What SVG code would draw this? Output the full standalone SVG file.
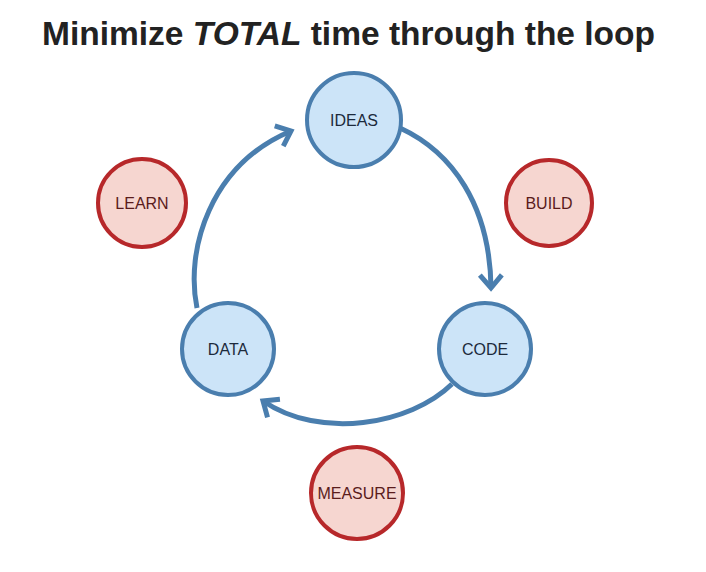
<svg xmlns="http://www.w3.org/2000/svg" width="706" height="572" viewBox="0 0 706 572">
<style>
.title{font-family:"Liberation Sans",Arial,sans-serif;font-weight:bold;font-size:33px;fill:#222}
.blue circle{fill:#cce4f8;stroke:#4a7eae;stroke-width:4}
.red circle{fill:#f6d6d0;stroke:#b7282a;stroke-width:4}
.lbl{font-family:"Liberation Sans",Arial,sans-serif;font-size:16px;text-anchor:middle}
.blue .lbl{fill:#1c2a3c}
.red .lbl{fill:#5a1c1c}
.conn path{fill:none;stroke:#4a7eae;stroke-width:5}
</style>
<defs>
<marker id="arr" markerUnits="userSpaceOnUse" markerWidth="40" markerHeight="40" viewBox="-20 -20 40 40" refX="0" refY="0" orient="auto">
<path d="M-13,-11 L0,0 L-13,11" fill="none" stroke="#4a7eae" stroke-width="5"/>
</marker>
</defs>
<rect width="706" height="572" fill="#fff"/>
<text class="title" x="42" y="45" textLength="613" lengthAdjust="spacingAndGlyphs">Minimize <tspan font-style="italic">TOTAL</tspan> time through the loop</text>
<g class="conn">
<path d="M400,128 C452,152 490,205 491,288" marker-end="url(#arr)"/>
<path d="M452,384 C410,425 320,440 263,401" marker-end="url(#arr)"/>
<path d="M197,308 C185,250 210,165 291,131" marker-end="url(#arr)"/>
</g>
<g id="ideas" class="blue"><circle cx="354" cy="120" r="47"/><text class="lbl" x="354" y="126">IDEAS</text></g>
<g id="code" class="blue"><circle cx="485" cy="349" r="46"/><text class="lbl" x="485" y="355">CODE</text></g>
<g id="data" class="blue"><circle cx="228" cy="349" r="46"/><text class="lbl" x="228" y="355">DATA</text></g>
<g id="build" class="red"><circle cx="549" cy="203" r="43"/><text class="lbl" x="549" y="209">BUILD</text></g>
<g id="learn" class="red"><circle cx="142" cy="203" r="44"/><text class="lbl" x="142" y="209">LEARN</text></g>
<g id="measure" class="red"><circle cx="357" cy="493" r="46"/><text class="lbl" x="357" y="499">MEASURE</text></g>
</svg>
